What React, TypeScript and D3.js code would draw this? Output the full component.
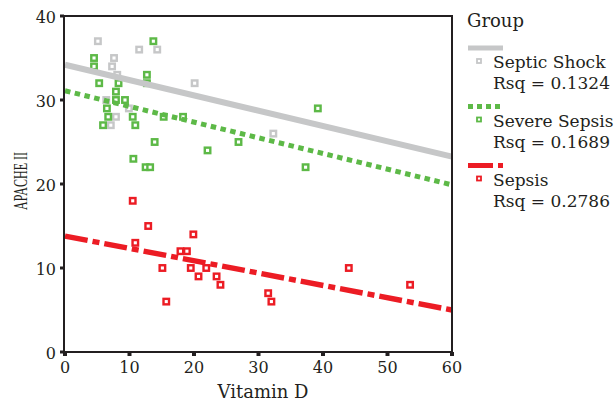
import * as d3 from 'd3';

// Vitamin D (x) vs APACHE II (y), by group
const septicShock: [number, number][] = [
  [5.1, 37], [11.5, 36], [14.3, 36], [7.6, 35], [7.3, 34], [8.1, 33],
  [20.1, 32], [6.4, 30], [9.9, 29], [7.9, 28], [7.1, 27], [32.3, 26],
];
const severeSepsis: [number, number][] = [
  [13.7, 37], [4.5, 35], [4.5, 34], [12.7, 33], [12.7, 32], [5.3, 32],
  [8.3, 32], [7.9, 31], [7.9, 30], [9.3, 30], [6.5, 29], [10.5, 28],
  [6.7, 28], [15.3, 28], [18.3, 28], [5.9, 27], [10.9, 27], [13.9, 25],
  [22.1, 24], [26.9, 25], [39.2, 29], [37.3, 22], [10.6, 23], [12.5, 22],
  [13.2, 22],
];
const sepsis: [number, number][] = [
  [10.5, 18], [12.9, 15], [19.9, 14], [10.9, 13], [17.9, 12], [18.9, 12],
  [15.1, 10], [19.5, 10], [21.9, 10], [20.7, 9], [23.5, 9], [24.1, 8],
  [15.7, 6], [31.5, 7], [32.0, 6], [44.0, 10], [53.5, 8],
];

const groupNames = ['Septic Shock', 'Severe Sepsis', 'Sepsis'];
const rsq = ['0.1324', '0.1689', '0.2786'];
// fit lines: intercept, slope
const intercepts = [34.2, 31.1, 13.8];
const slopes = [-0.1825, -0.1867, -0.1467];

const xTicks = [0, 10, 20, 30, 40, 50, 60];
const yTicks = [0, 10, 20, 30, 40];

const colors = ['#c6c7c8', '#5db947', '#ec1c24'];
const dashes = ['none', '5.5,4.5', '23,5,7,5'];
const widths = [6, 5, 5.5];

const W = 616;
const H = 402;
const font = "'DejaVu Serif', serif";
const ink = '#231f20';

export default function App() {
  const x = d3.scaleLinear().domain([0, 60]).range([65, 452]);
  const y = d3.scaleLinear().domain([0, 40]).range([352, 16]);
  const groups = [septicShock, severeSepsis, sepsis];

  const fitPath = (g: number) =>
    d3.line<number>()
      .x(d => x(d))
      .y(d => y(intercepts[g] + slopes[g] * d))(x.domain()) || '';

  const legendY = [48, 106.5, 165.5];

  return (
    <svg width={W} height={H} style={{ position: 'absolute', left: 0, top: 0, background: '#fff' }}>
      {/* points */}
      {groups.map((pts, g) => (
        <g key={g}>
          {pts.map((p, i) => (
            <rect key={i} x={x(p[0]) - 2.75} y={y(p[1]) - 2.75} width={5.5} height={5.5}
              fill="#fff" stroke={colors[g]} strokeWidth={2.4} />
          ))}
        </g>
      ))}
      {/* fit lines */}
      {groups.map((_, g) => (
        <path key={g} d={fitPath(g)} fill="none" stroke={colors[g]}
          strokeWidth={widths[g]} strokeDasharray={dashes[g]} />
      ))}
      {/* frame */}
      <rect x={64} y={16} width={388} height={336} fill="none" stroke={ink} strokeWidth={2} />
      {/* y axis */}
      {yTicks.map(t => (
        <g key={t}>
          <line x1={60} x2={64} y1={y(t)} y2={y(t)} stroke={ink} strokeWidth={3} />
          <text x={56} y={y(t)} dy="0.42em" textAnchor="end" fontFamily={font}
            fontSize={16} fill={ink}>{t}</text>
        </g>
      ))}
      {/* x axis */}
      {xTicks.map(t => (
        <g key={t}>
          <line x1={x(t)} x2={x(t)} y1={352} y2={356} stroke={ink} strokeWidth={4} />
          <text x={x(t)} y={373} textAnchor="middle" fontFamily={font}
            fontSize={16} fill={ink}>{t}</text>
        </g>
      ))}
      <text x={263} y={398} textAnchor="middle" fontFamily={font} fontSize={18} fill={ink}>Vitamin D</text>
      <text transform="translate(27,181) rotate(-90)" textAnchor="middle"
        fontFamily="'Liberation Serif', serif" fontSize={19} textLength={58}
        lengthAdjust="spacingAndGlyphs" fill={ink}>APACHE II</text>

      {/* legend */}
      <text x={467} y={27} fontFamily={font} fontSize={18} fill={ink}>Group</text>
      {groupNames.map((name, g) => (
        <g key={g}>
          <line x1={468} x2={503} y1={legendY[g]} y2={legendY[g]} stroke={colors[g]}
            strokeWidth={5} strokeDasharray={g === 1 ? '5,4' : g === 2 ? '25,5,5,5' : 'none'} />
          <rect x={477} y={legendY[g] + 11} width={4} height={4} fill="#fff"
            stroke={colors[g]} strokeWidth={1.8} />
          <text x={493} y={legendY[g] + 20} fontFamily={font} fontSize={17} fill={ink}>{name}</text>
          <text x={493} y={legendY[g] + 41} fontFamily={font} fontSize={17} fill={ink}>Rsq = {rsq[g]}</text>
        </g>
      ))}
    </svg>
  );
}
